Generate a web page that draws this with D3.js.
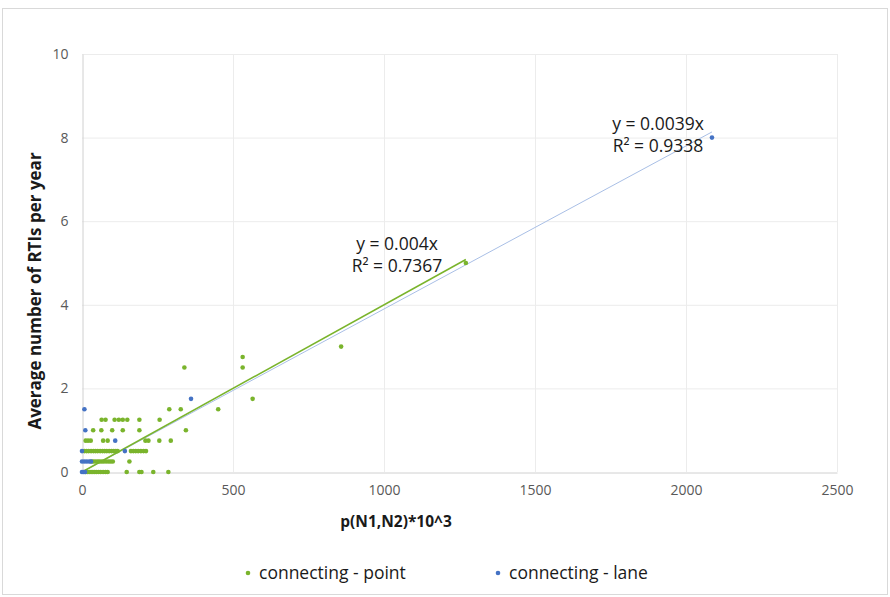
<!DOCTYPE html>
<html>
<head>
<meta charset="utf-8">
<script src="https://cdn.jsdelivr.net/npm/d3@7"></script>
<style>
  body { margin: 0; background: #fff; }
  svg { font-family: "Open Sans", "Noto Sans", sans-serif; }
</style>
</head>
<body>
<svg id="chart" width="890" height="597"></svg>
<script>
// data
var pointX0 = [12, 18, 24, 30, 36, 42, 48, 55, 62, 70, 78, 85, 148, 190, 197, 236, 286];
var pointX025 = [32, 38, 45, 52, 58, 65, 72, 80, 88, 95, 102, 157];
var pointX05 = [8, 15, 22, 30, 38, 45, 52, 60, 68, 75, 82, 90, 98, 105, 112, 118, 162, 170, 178, 186, 195, 204, 212];
var pointX075 = [12, 20, 29, 70, 85, 210, 220, 256, 294];
var pointX1 = [37, 64, 100, 135, 190, 344];
var pointX125 = [65, 78, 108, 122, 135, 150, 190, 257];
var pointRest = [[289, 1.5], [327, 1.5], [451, 1.5], [565, 1.75], [339, 2.5], [532, 2.5], [532, 2.75], [858, 3], [1271, 5]];

var laneData = [[0, 0], [5, 0], [10, 0], [0, 0.25], [8, 0.25], [16, 0.25], [24, 0.25], [30, 0.25],
  [0, 0.5], [142, 0.5], [110, 0.75], [11, 1], [8, 1.5], [361, 1.75], [2086, 8]];

var xTicks = [0, 500, 1000, 1500, 2000, 2500];
var yTicks = [0, 2, 4, 6, 8, 10];
var pointSlope = 0.004, laneSlope = 0.0039;
var pointLabel = ["y = 0.004x", "R² = 0.7367"];
var laneLabel = ["y = 0.0039x", "R² = 0.9338"];

var pointData = [];
[[pointX0, 0], [pointX025, 0.25], [pointX05, 0.5], [pointX075, 0.75], [pointX1, 1], [pointX125, 1.25]]
  .forEach(function(row) {
    row[0].forEach(function(x) { pointData.push([x, row[1]]); });
  });
pointData = pointData.concat(pointRest);

var green = "#7ab42c", blue = "#4472c4";

var svg = d3.select("#chart");

// outer frame
svg.append("rect")
  .attr("x", 2.5).attr("y", 8.5).attr("width", 885).attr("height", 586)
  .attr("fill", "#fff").attr("stroke", "#d9d9d9");

var x = d3.scaleLinear().domain([0, 2500]).range([82, 837]);
var y = d3.scaleLinear().domain([0, 10]).range([472, 54]);

// gridlines
svg.append("g").selectAll("line").data(yTicks.slice(1)).join("line")
  .attr("x1", x(0)).attr("x2", x(2500))
  .attr("y1", function(d) { return y(d) + 0.5; }).attr("y2", function(d) { return y(d) + 0.5; })
  .attr("stroke", "#ececec");
svg.append("g").selectAll("line").data(xTicks.slice(1)).join("line")
  .attr("y1", y(0)).attr("y2", y(10))
  .attr("x1", function(d) { return x(d) + 0.5; }).attr("x2", function(d) { return x(d) + 0.5; })
  .attr("stroke", "#ececec");

// axes
var xAxis = svg.append("g").attr("transform", "translate(0," + (y(0) + 0.5) + ")")
  .call(d3.axisBottom(x).tickValues(xTicks).tickFormat(d3.format("d")).tickSize(0).tickPadding(13));
var yAxis = svg.append("g").attr("transform", "translate(" + (x(0) + 0.5) + ",0)")
  .call(d3.axisLeft(y).tickValues(yTicks).tickSize(0).tickPadding(14));
[xAxis, yAxis].forEach(function(a) {
  a.select(".domain").attr("stroke", "#d0d0d0");
  a.selectAll("text").attr("font-size", 14).attr("fill", "#595959")
    .attr("font-family", "Open Sans, sans-serif");
});

// trendlines
var pMax = d3.max(pointData, function(d) { return d[0]; });
var lMax = d3.max(laneData, function(d) { return d[0]; });
svg.append("line")
  .attr("x1", x(0)).attr("y1", y(0)).attr("x2", x(lMax)).attr("y2", y(lMax * laneSlope))
  .attr("stroke", "#a9bfe6").attr("stroke-width", 1);
svg.append("line")
  .attr("x1", x(0)).attr("y1", y(0)).attr("x2", x(pMax)).attr("y2", y(pMax * pointSlope))
  .attr("stroke", green).attr("stroke-width", 1.5);

// markers
svg.append("g").selectAll("circle").data(pointData).join("circle")
  .attr("cx", function(d) { return x(d[0]); }).attr("cy", function(d) { return y(d[1]); })
  .attr("r", 2.3).attr("fill", green);
svg.append("g").selectAll("circle").data(laneData).join("circle")
  .attr("cx", function(d) { return x(d[0]); }).attr("cy", function(d) { return y(d[1]); })
  .attr("r", 2.3).attr("fill", blue);

// trendline labels
function eqLabel(lines, cx, cy) {
  var t = svg.append("text").attr("text-anchor", "middle").attr("font-size", 17.5).attr("fill", "#1a1a1a");
  lines.forEach(function(s, i) {
    t.append("tspan").attr("x", cx).attr("y", cy + i * 22).text(s);
  });
}
eqLabel(pointLabel, 397, 250);
eqLabel(laneLabel, 658, 130);

// axis titles
svg.append("text")
  .attr("x", 396).attr("y", 527).attr("text-anchor", "middle")
  .attr("font-size", 15.5).attr("font-weight", "bold").attr("fill", "#1a1a1a")
  .text("p(N1,N2)*10^3");
svg.append("text")
  .attr("transform", "translate(41,291) rotate(-90)").attr("text-anchor", "middle")
  .attr("font-size", 17).attr("font-weight", "bold").attr("fill", "#1a1a1a")
  .text("Average number of RTIs per year");

// legend
var legend = [["connecting - point", green, 248], ["connecting - lane", blue, 498]];
legend.forEach(function(l) {
  svg.append("circle").attr("cx", l[2]).attr("cy", 573).attr("r", 2.3).attr("fill", l[1]);
  svg.append("text").attr("x", l[2] + 11).attr("y", 579)
    .attr("font-size", 17.5).attr("fill", "#1a1a1a").text(l[0]);
});
</script>
</body>
</html>
